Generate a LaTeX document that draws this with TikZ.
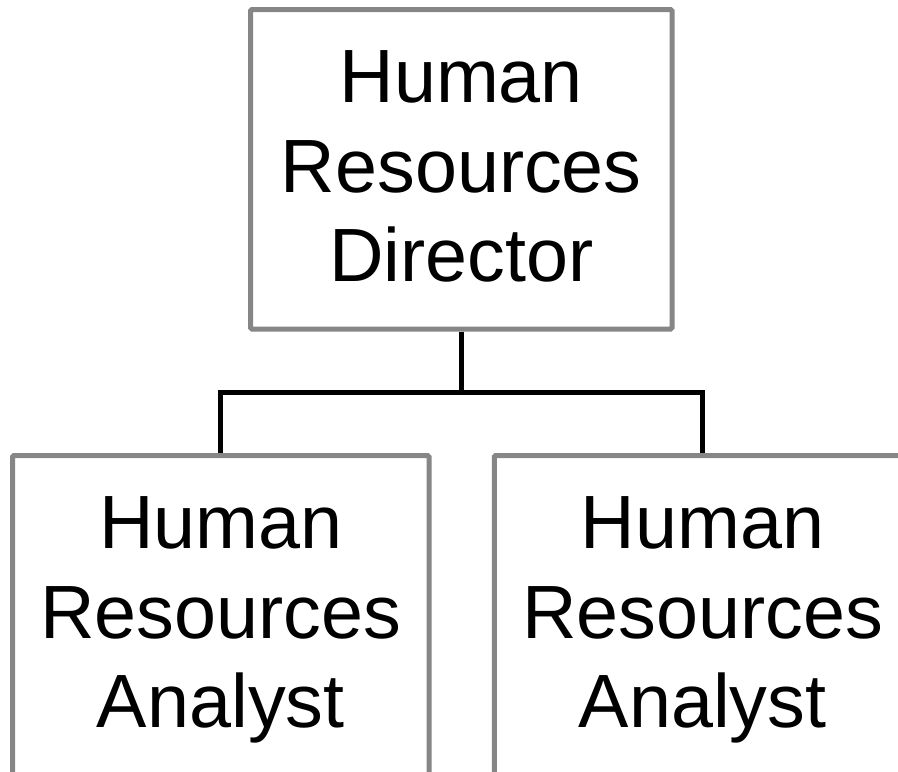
\documentclass[tikz,border=0pt]{standalone}
\usepackage{fontspec}
\setmainfont{Liberation Sans}
\begin{document}
\begin{tikzpicture}[x=1pt,y=-1pt,
  post/.style={draw=gray!95!white,line width=5pt,rounded corners=1.5pt,
    minimum width=416.5pt,minimum height=319.5pt,align=center,
    inner sep=0pt,text height=233pt,text depth=8.5pt,
    font=\fontsize{75.5}{89.5}\selectfont},
  link/.style={line width=5pt}]
\useasboundingbox (0,0) rectangle (898,772);
\node[post,minimum width=421.5pt] (dir) at (461.25,169.25) {Human\\Resources\\Director};
\node[post] (ana1) at (220.75,615.25) {Human\\Resources\\Analyst};
\node[post] (ana2) at (702.5,615.25) {Human\\Resources\\Analyst};
\coordinate (fork) at (461.25,392.5);
\draw[link] (dir.south)--(fork);
\draw[link] (ana1.north)|-(fork)-|(ana2.north);
\end{tikzpicture}
\end{document}
